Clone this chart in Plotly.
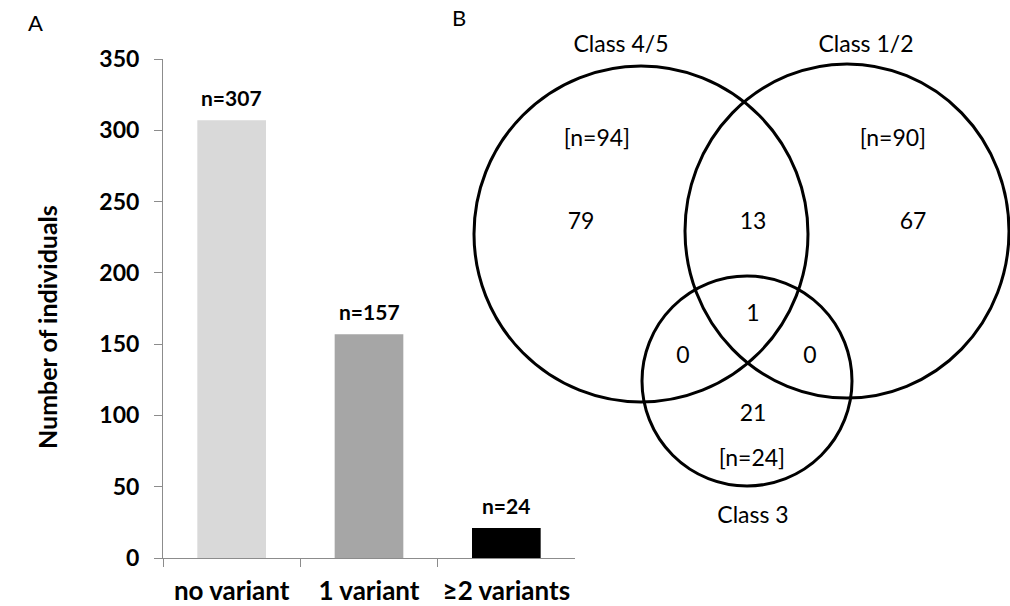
import plotly.graph_objects as go

# ---- Panel A data ----
categories = ["no variant", "1 variant", "≥2 variants"]
bar_values = [307, 157, 21]
bar_labels = ["n=307", "n=157", "n=24"]
bar_colors = ["#d9d9d9", "#a6a6a6", "#000000"]
y_ticks = [0, 50, 100, 150, 200, 250, 300, 350]

# ---- Panel B (Venn) data ----
set_names = ["Class 4/5", "Class 1/2", "Class 3"]
set_totals = ["[n=94]", "[n=90]", "[n=24]"]
region_counts = ["79", "13", "67", "1", "0", "0", "21"]

W, H = 1010, 606
FONT = "Lato"

fig = go.Figure()

fig.add_trace(go.Bar(
    x=categories, y=bar_values,
    marker=dict(color=bar_colors, line=dict(width=0)),
    xaxis="x", yaxis="y", showlegend=False, hoverinfo="skip",
))

# Venn geometry in pixel space (layout)
circles = [  # cx, cy, rx, ry
    (641, 234, 167, 168),
    (847, 231, 162, 167),
    (747, 381, 105, 105),
]
name_pos = [(621, 46), (866, 46), (753, 517)]
total_pos = [(597, 140), (893, 140), (752, 460)]
count_pos = [(581, 223), (753, 223), (913, 223), (753, 315), (683, 357), (810, 357), (753, 415)]

fig.add_trace(go.Scatter(
    x=[p[0] for p in name_pos + total_pos + count_pos],
    y=[p[1] for p in name_pos + total_pos + count_pos],
    text=set_names + set_totals + region_counts,
    mode="text", textposition="middle center", cliponaxis=False,
    textfont=dict(family=FONT, size=23, color="black"),
    xaxis="x2", yaxis="y2", showlegend=False, hoverinfo="skip",
))

shapes = []
for cx, cy, rx, ry in circles:
    shapes.append(dict(type="circle", xref="x2", yref="y2",
                       x0=cx - rx, x1=cx + rx, y0=cy - ry, y1=cy + ry,
                       line=dict(color="black", width=3), fillcolor="rgba(0,0,0,0)"))

annotations = [
    dict(text="A", x=35, y=22, xref="x2", yref="y2", showarrow=False,
         font=dict(family=FONT, size=22, color="black")),
    dict(text="B", x=459, y=17, xref="x2", yref="y2", showarrow=False,
         font=dict(family=FONT, size=22, color="black")),
    dict(text="Number of individuals", x=30 / W, y=1 - 327 / H, xref="paper", yref="paper",
         showarrow=False, textangle=-90,
         font=dict(family=FONT, size=25, color="black", weight="bold")),
]
for cat, val, lab in zip(categories, bar_values, bar_labels):
    annotations.append(dict(text=lab, x=cat, y=val, xref="x", yref="y",
                            yanchor="bottom", yshift=8, showarrow=False,
                            font=dict(family=FONT, size=21, color="black", weight="bold")))

axis_gray = "#8c8c8c"
fig.update_layout(
    template="none",
    width=W, height=H,
    margin=dict(l=0, r=0, t=0, b=0, pad=0, autoexpand=False),
    paper_bgcolor="white", plot_bgcolor="rgba(0,0,0,0)",
    bargap=0.5,
    shapes=shapes, annotations=annotations,
    xaxis=dict(domain=[163 / W, 575 / W], showline=True, linecolor=axis_gray, linewidth=1,
               ticks="outside", tickson="boundaries", ticklen=8, tickcolor=axis_gray,
               tickfont=dict(family=FONT, size=26, color="black", weight="bold"),
               ticklabelstandoff=10, showgrid=False, zeroline=False, fixedrange=True,
               automargin=False),
    yaxis=dict(domain=[1 - 558 / H, 1 - 59 / H], range=[0, 350], tickvals=y_ticks,
               showline=True, linecolor=axis_gray, linewidth=1,
               ticks="outside", ticklen=8, tickcolor=axis_gray,
               tickfont=dict(family=FONT, size=23, color="black", weight="bold"),
               ticklabelstandoff=10, showgrid=False, zeroline=False, fixedrange=True,
               automargin=False),
    xaxis2=dict(domain=[0, 1], range=[0, W], visible=False, fixedrange=True, automargin=False),
    yaxis2=dict(domain=[0, 1], range=[H, 0], visible=False, fixedrange=True, anchor="x2",
                automargin=False),
)

fig.write_html("out.html", config={"displayModeBar": False},
               post_script="document.body.style.margin='0';document.body.style.overflow='hidden';")
